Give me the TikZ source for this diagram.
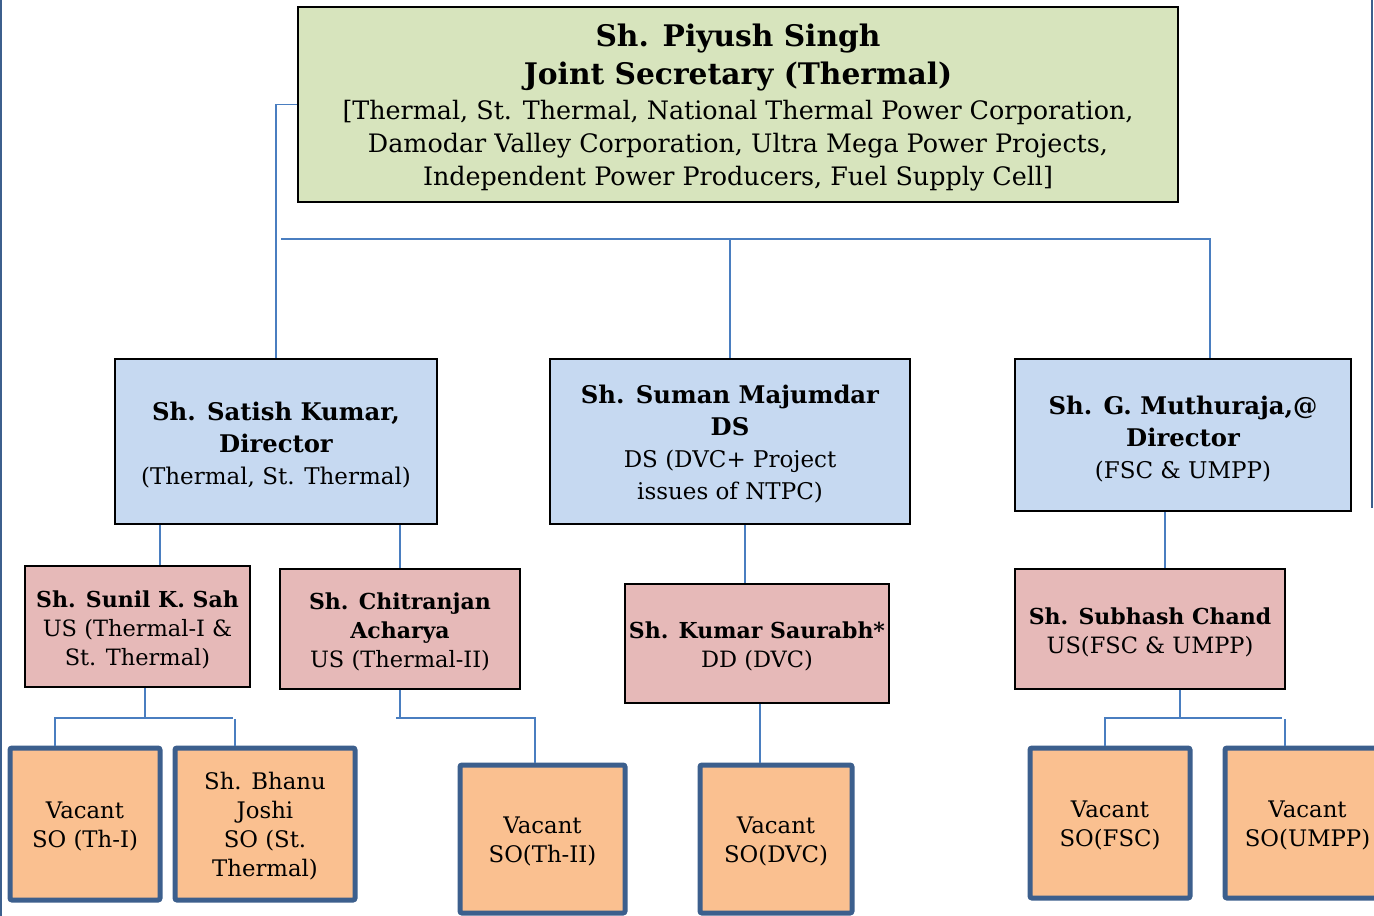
\documentclass[tikz,border=0pt]{standalone}
\usepackage{fontspec}
\setmainfont{DejaVu Serif}
\usetikzlibrary{calc}
\definecolor{jsfill}{HTML}{D7E4BD}
\definecolor{dirfill}{HTML}{C6D9F1}
\definecolor{usfill}{HTML}{E6B9B8}
\definecolor{sofill}{HTML}{FAC090}
\definecolor{soline}{HTML}{3C5F8D}
\definecolor{connc}{HTML}{4A7EC0}
\newcommand{\dirname}[1]{{\fontsize{24.3}{32}\selectfont\bfseries #1}}
\newcommand{\usname}[1]{{\fontsize{22}{29}\selectfont\bfseries #1}}
\newcommand{\jstitle}[1]{{\fontsize{29.7}{33}\selectfont\bfseries #1}}
% box node + separately placed text node
\newcommand{\obox}[7]{%
  \node[#1, minimum width=#4, minimum height=#5] (#2) at #3 {};
  \node[#1 text] (#2-t) at ([yshift=#6]#2.center) {#7};}
\tikzset{
  jsbox/.style={draw=black, line width=2pt, fill=jsfill, inner sep=0pt},
  jsbox text/.style={align=center, inner sep=0pt, font=\fontsize{25.4}{33}\selectfont},
  dirbox/.style={draw=black, line width=1.8pt, fill=dirfill, inner sep=0pt},
  dirbox text/.style={align=center, inner sep=0pt, font=\fontsize{23}{32}\selectfont},
  usbox/.style={draw=black, line width=1.8pt, fill=usfill, inner sep=0pt},
  usbox text/.style={align=center, inner sep=0pt, font=\fontsize{22.5}{29}\selectfont},
  sobox/.style={draw=soline, line width=5pt, fill=sofill, rounded corners=2pt, inner sep=0pt},
  sobox text/.style={align=center, inner sep=0pt, font=\fontsize{22.8}{29}\selectfont},
  link/.style={draw=connc, line width=1.5pt},
  edgeline/.style={draw=soline, line width=2.5pt}
}
\begin{document}
\begin{tikzpicture}[x=1pt,y=-1pt]
\clip (0,0) rectangle (1374,916);
\fill[white] (0,0) rectangle (1374,916);

% page edge lines
\coordinate (eL1) at (1,0); \coordinate (eL2) at (1,916);
\coordinate (eR1) at (1372,0); \coordinate (eR2) at (1372,508);
\draw[edgeline] (eL1) -- (eL2);
\draw[edgeline, line width=1.5pt] (eR1) -- (eR2);

% level 1
\obox{jsbox}{js}{(738,104.5)}{880}{195}{-3.5}
{\jstitle{Sh. Piyush Singh}\\[5pt]
 \jstitle{Joint Secretary (Thermal)}\\[2pt]
 [Thermal, St. Thermal, National Thermal Power Corporation,\\
 Damodar Valley Corporation, Ultra Mega Power Projects,\\
 Independent Power Producers, Fuel Supply Cell]}

% level 2
\obox{dirbox}{satish}{(276,441.5)}{322}{165}{-4}
{\dirname{Sh. Satish Kumar,}\\ \dirname{Director}\\ (Thermal, St. Thermal)}
\obox{dirbox}{suman}{(730,441.5)}{360}{165}{-3}
{\dirname{Sh. Suman Majumdar}\\ \dirname{DS}\\ DS (DVC+ Project\\ issues of NTPC)}
\obox{dirbox}{muthu}{(1183,435)}{336}{152}{-4}
{\dirname{Sh. G. Muthuraja,@}\\ \dirname{Director}\\ (FSC \& UMPP)}

% level 3
\obox{usbox}{sunil}{(137.5,626.5)}{225}{121}{-3}
{\usname{Sh. Sunil K. Sah}\\ US (Thermal-I \&\\ St. Thermal)}
\obox{usbox}{chitra}{(400,629)}{240}{120}{-3}
{\usname{Sh. Chitranjan}\\ \usname{Acharya}\\ US (Thermal-II)}
\obox{usbox}{kumar}{(757,643.5)}{264}{119}{-3}
{\usname{Sh. Kumar Saurabh*}\\ DD (DVC)}
\obox{usbox}{subhash}{(1150,629)}{270}{120}{-3}
{\usname{Sh. Subhash Chand}\\ US(FSC \& UMPP)}

% level 4
\obox{sobox}{thI}{(85,824)}{150}{152}{-2}{Vacant\\ SO (Th-I)}
\obox{sobox}{bhanu}{(265,824)}{180}{152}{-2}{Sh. Bhanu\\ Joshi\\ SO (St.\\ Thermal)}
\obox{sobox}{thII}{(542.5,839)}{165}{148}{-2}{Vacant\\ SO(Th-II)}
\obox{sobox}{dvc}{(776,839)}{152}{148}{-2}{Vacant\\ SO(DVC)}
\obox{sobox}{fsc}{(1110,823)}{160}{150}{-2}{Vacant\\ SO(FSC)}
\obox{sobox}{umpp}{(1307.5,823)}{165}{150}{-2}{Vacant\\ SO(UMPP)}

% helper coordinates
\coordinate (busL) at (281,239);
\coordinate (busR) at (1210,239);
\coordinate (xsun) at (160,0);
\coordinate (xkum) at (745,0);
\coordinate (xsub) at (1165,0);
\coordinate (b1) at (145,718);
\coordinate (b1L) at (55,718);
\coordinate (b1R) at (233,718);
\coordinate (b1s) at (235,719);
\coordinate (b2) at (400,718);
\coordinate (b2L) at (396,718);
\coordinate (b2R) at (535,718);
\coordinate (b3) at (760,0);
\coordinate (b4) at (1180,718);
\coordinate (b4L) at (1105,718);
\coordinate (b4R) at (1282,718);
\coordinate (b4s) at (1285,719);

% connectors level 1 -> 2
\draw[link] (js.west) -| (satish.north);
\draw[link] (busL) -- (busR) -- (busR |- muthu.north);
\draw[link] (suman.north) -- (suman.north |- busL);

% level 2 -> 3
\draw[link] (satish.south -| xsun) -- (sunil.north -| xsun);
\draw[link] (satish.south -| chitra.north) -- (chitra.north);
\draw[link] (suman.south -| xkum) -- (kumar.north -| xkum);
\draw[link] (muthu.south -| xsub) -- (subhash.north -| xsub);

% level 3 -> 4
\draw[link] (sunil.south -| b1) -- (b1);
\draw[link] (thI.north -| b1L) -- (b1L) -- (b1R);
\draw[link] (b1s) -- (bhanu.north -| b1s);
\draw[link] (chitra.south -| b2) -- (b2);
\draw[link] (b2L) -- (b2R) -- (thII.north -| b2R);
\draw[link] (kumar.south -| b3) -- (dvc.north -| b3);
\draw[link] (subhash.south -| b4) -- (b4);
\draw[link] (fsc.north -| b4L) -- (b4L) -- (b4R);
\draw[link] (b4s) -- (umpp.north -| b4s);
\end{tikzpicture}
\end{document}
